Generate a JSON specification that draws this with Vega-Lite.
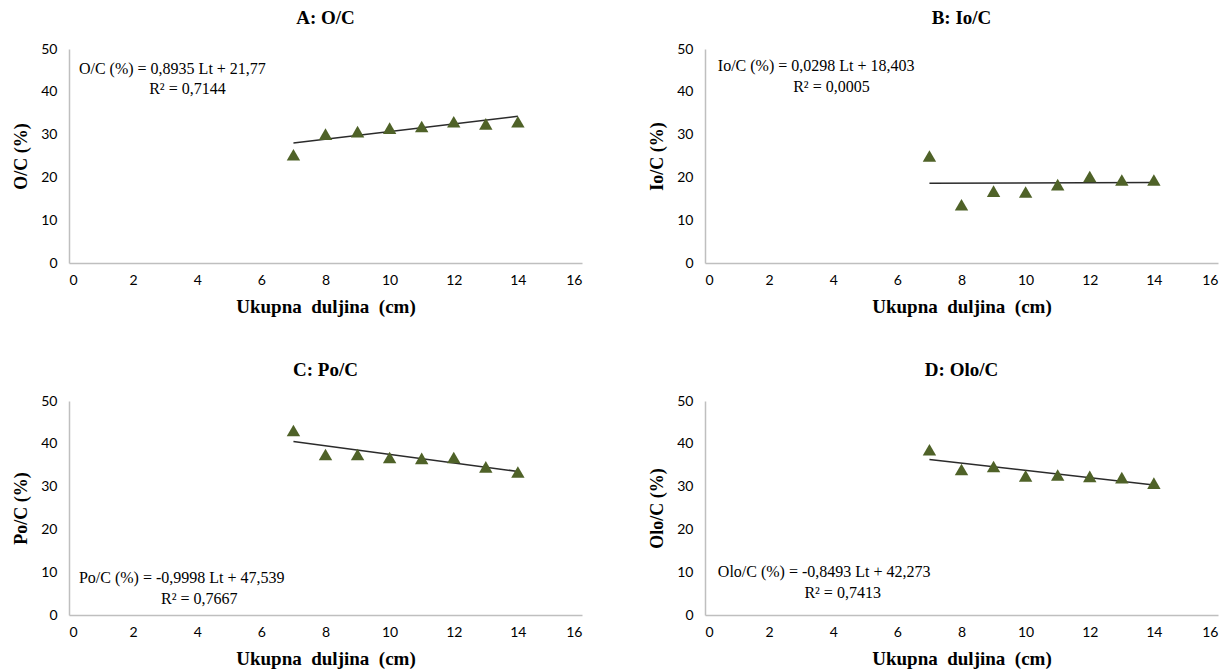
{
  "$schema": "https://vega.github.io/schema/vega-lite/v6.json",
  "padding": {"left": 12, "top": 9, "right": 5, "bottom": 5},
  "background": "white",
  "datasets": {
    "pts": [
      {"panel": "A", "Lt": 7, "value": 25.3},
      {"panel": "A", "Lt": 8, "value": 30.1},
      {"panel": "A", "Lt": 9, "value": 30.7},
      {"panel": "A", "Lt": 10, "value": 31.5},
      {"panel": "A", "Lt": 11, "value": 31.9},
      {"panel": "A", "Lt": 12, "value": 33.0},
      {"panel": "A", "Lt": 13, "value": 32.5},
      {"panel": "A", "Lt": 14, "value": 33.0},
      {"panel": "B", "Lt": 7, "value": 25.0},
      {"panel": "B", "Lt": 8, "value": 13.6},
      {"panel": "B", "Lt": 9, "value": 16.8},
      {"panel": "B", "Lt": 10, "value": 16.6},
      {"panel": "B", "Lt": 11, "value": 18.3},
      {"panel": "B", "Lt": 12, "value": 20.2},
      {"panel": "B", "Lt": 13, "value": 19.4},
      {"panel": "B", "Lt": 14, "value": 19.4},
      {"panel": "C", "Lt": 7, "value": 43.1},
      {"panel": "C", "Lt": 8, "value": 37.5},
      {"panel": "C", "Lt": 9, "value": 37.5},
      {"panel": "C", "Lt": 10, "value": 36.8},
      {"panel": "C", "Lt": 11, "value": 36.6},
      {"panel": "C", "Lt": 12, "value": 36.8},
      {"panel": "C", "Lt": 13, "value": 34.6},
      {"panel": "C", "Lt": 14, "value": 33.4},
      {"panel": "D", "Lt": 7, "value": 38.6},
      {"panel": "D", "Lt": 8, "value": 34.0},
      {"panel": "D", "Lt": 9, "value": 34.7},
      {"panel": "D", "Lt": 10, "value": 32.5},
      {"panel": "D", "Lt": 11, "value": 32.7},
      {"panel": "D", "Lt": 12, "value": 32.4},
      {"panel": "D", "Lt": 13, "value": 32.1},
      {"panel": "D", "Lt": 14, "value": 30.8}
    ],
    "trend": [
      {"panel": "A", "Lt": 7, "value": 28.02},
      {"panel": "A", "Lt": 14, "value": 34.28},
      {"panel": "B", "Lt": 7, "value": 18.61},
      {"panel": "B", "Lt": 14, "value": 18.82},
      {"panel": "C", "Lt": 7, "value": 40.54},
      {"panel": "C", "Lt": 14, "value": 33.54},
      {"panel": "D", "Lt": 7, "value": 36.33},
      {"panel": "D", "Lt": 14, "value": 30.38}
    ],
    "one": [{"k": 1}]
  },
  "columns": 2,
  "spacing": {"row": 45, "column": 66},
  "concat": [
    {
      "width": 513, "height": 214,
      "title": "A: O/C",
      "layer": [
        {"data": {"name": "trend"}, "transform": [{"filter": "datum.panel === 'A'"}], "mark": {"type": "line", "color": "#2b2b2b", "strokeWidth": 1.5},
         "encoding": {
          "x": {"field": "Lt", "type": "quantitative", "scale": {"domain": [0, 16]}, "axis": {"values": [0,2,4,6,8,10,12,14,16], "title": "Ukupna\u00a0\u00a0duljina\u00a0\u00a0(cm)"}},
          "y": {"field": "value", "type": "quantitative", "scale": {"domain": [0, 50]}, "axis": {"values": [0,10,20,30,40,50], "title": "O/C (%)"}}}},
        {"data": {"name": "pts"}, "transform": [{"filter": "datum.panel === 'A'"}], "mark": {"type": "point", "shape": "triangle-up", "filled": true, "size": 180, "color": "#4F6228", "opacity": 1},
         "encoding": {"x": {"field": "Lt", "type": "quantitative"}, "y": {"field": "value", "type": "quantitative"}}},
        {"data": {"name": "one"}, "mark": {"type": "text", "align": "left", "baseline": "middle", "font": "Liberation Serif", "fontSize": 16, "color": "#000"},
         "encoding": {"x": {"datum": 0.31, "type": "quantitative"}, "y": {"datum": 45.3, "type": "quantitative"}, "text": {"value": "O/C (%) = 0,8935 Lt + 21,77"}}},
        {"data": {"name": "one"}, "mark": {"type": "text", "align": "left", "baseline": "middle", "font": "Liberation Serif", "fontSize": 16, "color": "#000"},
         "encoding": {"x": {"datum": 2.5, "type": "quantitative"}, "y": {"datum": 40.7, "type": "quantitative"}, "text": {"value": "R² = 0,7144"}}}
      ]
    },
    {
      "width": 513, "height": 214,
      "title": "B: Io/C",
      "layer": [
        {"data": {"name": "trend"}, "transform": [{"filter": "datum.panel === 'B'"}], "mark": {"type": "line", "color": "#2b2b2b", "strokeWidth": 1.5},
         "encoding": {
          "x": {"field": "Lt", "type": "quantitative", "scale": {"domain": [0, 16]}, "axis": {"values": [0,2,4,6,8,10,12,14,16], "title": "Ukupna\u00a0\u00a0duljina\u00a0\u00a0(cm)"}},
          "y": {"field": "value", "type": "quantitative", "scale": {"domain": [0, 50]}, "axis": {"values": [0,10,20,30,40,50], "title": "Io/C (%)"}}}},
        {"data": {"name": "pts"}, "transform": [{"filter": "datum.panel === 'B'"}], "mark": {"type": "point", "shape": "triangle-up", "filled": true, "size": 180, "color": "#4F6228", "opacity": 1},
         "encoding": {"x": {"field": "Lt", "type": "quantitative"}, "y": {"field": "value", "type": "quantitative"}}},
        {"data": {"name": "one"}, "mark": {"type": "text", "align": "left", "baseline": "middle", "font": "Liberation Serif", "fontSize": 16, "color": "#000"},
         "encoding": {"x": {"datum": 0.4, "type": "quantitative"}, "y": {"datum": 46.0, "type": "quantitative"}, "text": {"value": "Io/C (%) = 0,0298 Lt + 18,403"}}},
        {"data": {"name": "one"}, "mark": {"type": "text", "align": "left", "baseline": "middle", "font": "Liberation Serif", "fontSize": 16, "color": "#000"},
         "encoding": {"x": {"datum": 2.75, "type": "quantitative"}, "y": {"datum": 41.1, "type": "quantitative"}, "text": {"value": "R² = 0,0005"}}}
      ]
    },
    {
      "width": 513, "height": 214,
      "title": "C: Po/C",
      "layer": [
        {"data": {"name": "trend"}, "transform": [{"filter": "datum.panel === 'C'"}], "mark": {"type": "line", "color": "#2b2b2b", "strokeWidth": 1.5},
         "encoding": {
          "x": {"field": "Lt", "type": "quantitative", "scale": {"domain": [0, 16]}, "axis": {"values": [0,2,4,6,8,10,12,14,16], "title": "Ukupna\u00a0\u00a0duljina\u00a0\u00a0(cm)"}},
          "y": {"field": "value", "type": "quantitative", "scale": {"domain": [0, 50]}, "axis": {"values": [0,10,20,30,40,50], "title": "Po/C (%)"}}}},
        {"data": {"name": "pts"}, "transform": [{"filter": "datum.panel === 'C'"}], "mark": {"type": "point", "shape": "triangle-up", "filled": true, "size": 180, "color": "#4F6228", "opacity": 1},
         "encoding": {"x": {"field": "Lt", "type": "quantitative"}, "y": {"field": "value", "type": "quantitative"}}},
        {"data": {"name": "one"}, "mark": {"type": "text", "align": "left", "baseline": "middle", "font": "Liberation Serif", "fontSize": 16, "color": "#000"},
         "encoding": {"x": {"datum": 0.31, "type": "quantitative"}, "y": {"datum": 8.7, "type": "quantitative"}, "text": {"value": "Po/C (%) = -0,9998 Lt + 47,539"}}},
        {"data": {"name": "one"}, "mark": {"type": "text", "align": "left", "baseline": "middle", "font": "Liberation Serif", "fontSize": 16, "color": "#000"},
         "encoding": {"x": {"datum": 2.87, "type": "quantitative"}, "y": {"datum": 3.75, "type": "quantitative"}, "text": {"value": "R² = 0,7667"}}}
      ]
    },
    {
      "width": 513, "height": 214,
      "title": "D: Olo/C",
      "layer": [
        {"data": {"name": "trend"}, "transform": [{"filter": "datum.panel === 'D'"}], "mark": {"type": "line", "color": "#2b2b2b", "strokeWidth": 1.5},
         "encoding": {
          "x": {"field": "Lt", "type": "quantitative", "scale": {"domain": [0, 16]}, "axis": {"values": [0,2,4,6,8,10,12,14,16], "title": "Ukupna\u00a0\u00a0duljina\u00a0\u00a0(cm)"}},
          "y": {"field": "value", "type": "quantitative", "scale": {"domain": [0, 50]}, "axis": {"values": [0,10,20,30,40,50], "title": "Olo/C (%)"}}}},
        {"data": {"name": "pts"}, "transform": [{"filter": "datum.panel === 'D'"}], "mark": {"type": "point", "shape": "triangle-up", "filled": true, "size": 180, "color": "#4F6228", "opacity": 1},
         "encoding": {"x": {"field": "Lt", "type": "quantitative"}, "y": {"field": "value", "type": "quantitative"}}},
        {"data": {"name": "one"}, "mark": {"type": "text", "align": "left", "baseline": "middle", "font": "Liberation Serif", "fontSize": 16, "color": "#000"},
         "encoding": {"x": {"datum": 0.4, "type": "quantitative"}, "y": {"datum": 10.1, "type": "quantitative"}, "text": {"value": "Olo/C (%) = -0,8493 Lt + 42,273"}}},
        {"data": {"name": "one"}, "mark": {"type": "text", "align": "left", "baseline": "middle", "font": "Liberation Serif", "fontSize": 16, "color": "#000"},
         "encoding": {"x": {"datum": 3.1, "type": "quantitative"}, "y": {"datum": 5.2, "type": "quantitative"}, "text": {"value": "R² = 0,7413"}}}
      ]
    }
  ],
  "config": {
    "view": {"stroke": null},
    "font": "Liberation Serif",
    "axis": {"domainColor": "#BFBFBF", "domainWidth": 1.5, "ticks": false, "grid": false, "labelFont": "Lato", "labelFontSize": 14, "labelColor": "#000", "titleFont": "Liberation Serif", "titleFontSize": 18, "titleFontWeight": "bold", "titleColor": "#000"},
    "axisX": {"labelPadding": 10, "titlePadding": 10, "titleFontSize": 19},
    "axisY": {"labelPadding": 12, "titlePadding": 10},
    "title": {"font": "Liberation Serif", "fontSize": 19, "fontWeight": "bold", "color": "#000", "offset": 14}
  }
}
